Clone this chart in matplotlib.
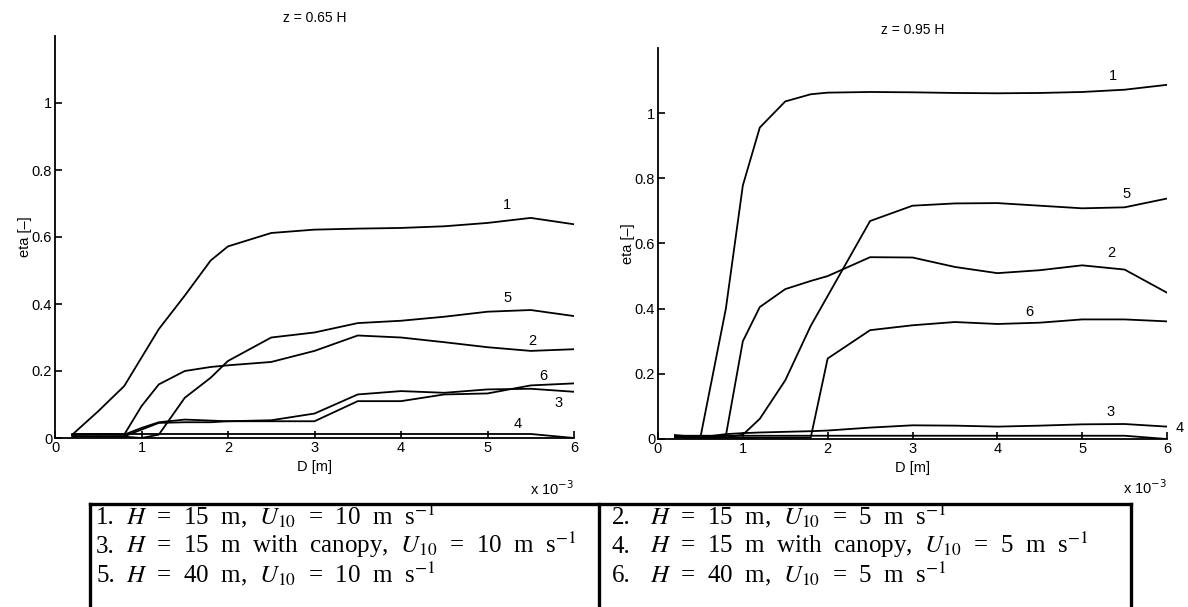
import numpy as np
import matplotlib
matplotlib.use("Agg")
import matplotlib.pyplot as plt
from matplotlib.lines import Line2D

# particle diameter D, in units of 1e-3 m
D = [0.2, 0.5, 0.8, 1.0, 1.2, 1.5, 1.8, 2.0, 2.5, 3.0, 3.5, 4.0, 4.5, 5.0, 5.5, 6.0]

# z = 0.65 H
left_1 = [0.010, 0.080, 0.155, 0.240, 0.325, 0.425, 0.530, 0.572, 0.612, 0.622, 0.625, 0.627, 0.632, 0.642, 0.657, 0.638]
left_2 = [0.010, 0.012, 0.010, 0.095, 0.160, 0.200, 0.212, 0.217, 0.227, 0.260, 0.306, 0.300, 0.286, 0.271, 0.260, 0.265]
left_3 = [0.010, 0.012, 0.010, 0.030, 0.047, 0.055, 0.052, 0.050, 0.053, 0.073, 0.130, 0.140, 0.135, 0.145, 0.147, 0.138]
left_4 = [0.012, 0.012, 0.012, 0.012, 0.012, 0.012, 0.012, 0.012, 0.012, 0.012, 0.012, 0.012, 0.012, 0.012, 0.012, 0.000]
left_5 = [0.005, 0.004, 0.004, 0.000, 0.010, 0.120, 0.180, 0.230, 0.300, 0.315, 0.343, 0.350, 0.362, 0.377, 0.382, 0.364]
left_6 = [0.005, 0.006, 0.005, 0.025, 0.045, 0.047, 0.047, 0.050, 0.050, 0.050, 0.110, 0.110, 0.130, 0.133, 0.157, 0.163]

# z = 0.95 H
right_1 = [0.012, 0.005, 0.400, 0.778, 0.956, 1.036, 1.058, 1.063, 1.065, 1.064, 1.062, 1.061, 1.062, 1.065, 1.072, 1.087]
right_2 = [0.010, 0.005, 0.010, 0.300, 0.405, 0.460, 0.485, 0.500, 0.558, 0.557, 0.528, 0.509, 0.518, 0.533, 0.520, 0.449]
right_3 = [0.010, 0.005, 0.015, 0.018, 0.020, 0.022, 0.024, 0.026, 0.035, 0.042, 0.041, 0.038, 0.041, 0.045, 0.046, 0.038]
right_4 = [0.010, 0.010, 0.010, 0.010, 0.010, 0.010, 0.010, 0.010, 0.010, 0.010, 0.010, 0.010, 0.010, 0.010, 0.010, 0.000]
right_5 = [0.005, 0.004, 0.005, 0.013, 0.062, 0.180, 0.347, 0.439, 0.669, 0.716, 0.723, 0.724, 0.716, 0.708, 0.711, 0.738]
right_6 = [0.005, 0.004, 0.004, 0.004, 0.004, 0.004, 0.004, 0.247, 0.334, 0.349, 0.359, 0.353, 0.357, 0.367, 0.367, 0.361]

# curve number label positions (x, y), label centres
left_labels = {"1": (5.23, 0.697), "2": (5.52, 0.290), "3": (5.82, 0.105),
               "4": (5.35, 0.042), "5": (5.23, 0.418), "6": (5.65, 0.185)}
right_labels = {"1": (5.36, 1.115), "2": (5.34, 0.570), "3": (5.34, 0.083),
                "4": (6.15, 0.034), "5": (5.52, 0.752), "6": (4.38, 0.390)}

legend_rows = [
    ("1.", r"$H$  =  15  m,  $U_{10}$  =  10  m  s$^{-1}$", "2.", r"$H$  =  15  m,  $U_{10}$  =  5  m  s$^{-1}$"),
    ("3.", r"$H$  =  15  m  with  canopy,  $U_{10}$  =  10  m  s$^{-1}$", "4.", r"$H$  =  15  m  with  canopy,  $U_{10}$  =  5  m  s$^{-1}$"),
    ("5.", r"$H$  =  40  m,  $U_{10}$  =  10  m  s$^{-1}$", "6.", r"$H$  =  40  m,  $U_{10}$  =  5  m  s$^{-1}$"),
]

plt.rcParams["font.family"] = ["Liberation Sans", "DejaVu Sans"]
plt.rcParams["font.size"] = 10

W, H = 1188, 607
fig = plt.figure(figsize=(W / 100, H / 100), dpi=100)


def px_axes(x0, x1, ytop, ybot):
    return fig.add_axes([x0 / W, 1 - ybot / H, (x1 - x0) / W, (ybot - ytop) / H])


def draw_panel(ax, curves, labels, title):
    for y in curves:
        ax.plot(D, y, color="black", lw=1.3)
    for name, (x, y) in labels.items():
        ax.text(x, y, name, ha="center", va="center", fontsize=10.5, clip_on=False)
    ax.set_xlim(0, 6)
    ax.set_ylim(0, 1.2)
    ax.set_xticks(range(7))
    ax.set_yticks([0, 0.2, 0.4, 0.6, 0.8, 1])
    ax.set_yticklabels(["0", "0.2", "0.4", "0.6", "0.8", "1"])
    ax.spines["top"].set_visible(False)
    ax.spines["right"].set_visible(False)
    for s in ("left", "bottom"):
        ax.spines[s].set_linewidth(1.3)
    ax.tick_params(direction="in", length=5, width=1.2, pad=2, labelsize=10.5)
    ax.set_xlabel("D [m]", labelpad=4, fontsize=10.5)
    ax.set_ylabel("eta [\u2013]", labelpad=0, fontsize=10.5)
    ax.set_title(title, fontsize=10, pad=10)
    ax.text(1.0, -0.125, r"x 10$^{-3}$", transform=ax.transAxes, ha="right", va="center", fontsize=10.5)


ax1 = px_axes(55, 574, 36, 438)
draw_panel(ax1, [left_1, left_2, left_3, left_4, left_5, left_6], left_labels, "z = 0.65 H")

ax2 = px_axes(658, 1167, 48, 439)
draw_panel(ax2, [right_1, right_2, right_3, right_4, right_5, right_6], right_labels, "z = 0.95 H")

# legend table below the panels
plt.rcParams["mathtext.fontset"] = "stix"
serif = ["Liberation Serif", "DejaVu Serif"]
tx = lambda x: x / W
ty = lambda y: 1 - y / H
for (x0, y0, x1, y1) in [(90, 504, 1131, 504), (90, 504, 90, 607), (599, 504, 599, 607), (1131, 504, 1131, 607)]:
    fig.add_artist(Line2D([tx(x0), tx(x1)], [ty(y0), ty(y1)], color="black", lw=2.4))

for i, (n1, t1, n2, t2) in enumerate(legend_rows):
    yb = ty(524 + 29 * i)
    fig.text(tx(96), yb, n1, family=serif, fontsize=18, va="baseline")
    fig.text(tx(126), yb, t1, family=serif, fontsize=18, va="baseline")
    fig.text(tx(612), yb, n2, family=serif, fontsize=18, va="baseline")
    fig.text(tx(650), yb, t2, family=serif, fontsize=18, va="baseline")

fig.savefig("out.png", dpi=100)
